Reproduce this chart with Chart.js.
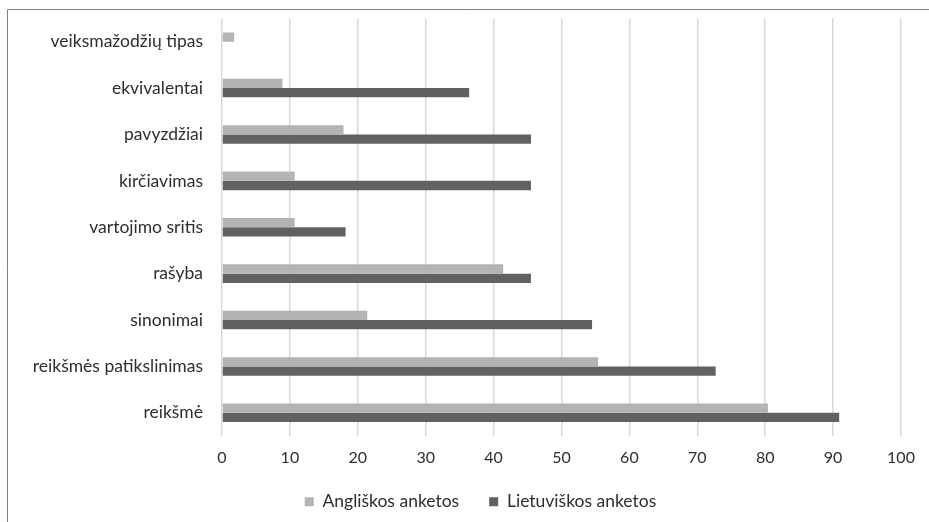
<!DOCTYPE html>
<html>
<head>
<meta charset="utf-8">
<script src="https://cdn.jsdelivr.net/npm/chart.js@4.4.1/dist/chart.umd.min.js"></script>
<style>
html,body{margin:0;padding:0;background:#fff;}
#wrap{position:relative;width:929px;height:522px;}
</style>
</head>
<body>
<div id="wrap"><canvas id="c" width="929" height="522"></canvas></div>
<script>
const categories = ['veiksmažodžių tipas','ekvivalentai','pavyzdžiai','kirčiavimas','vartojimo sritis','rašyba','sinonimai','reikšmės patikslinimas','reikšmė'];
const anglValues = [1.8, 8.9, 17.9, 10.7, 10.7, 41.4, 21.4, 55.4, 80.4];
const lietValues = [null, 36.4, 45.5, 45.5, 18.2, 45.5, 54.5, 72.7, 90.9];
const seriesNames = ['Angliškos anketos', 'Lietuviškos anketos'];
const xMin = 0, xMax = 100, xStep = 10;

const FONT = 'Lato';
const TEXT = '#2e2e2e';

const framePlugin = {
  id: 'frame',
  beforeDraw(chart) {
    const ctx = chart.ctx;
    ctx.save();
    ctx.strokeStyle = '#808080';
    ctx.lineWidth = 1;
    ctx.beginPath();
    ctx.moveTo(7.5, 522);
    ctx.lineTo(7.5, 9.5);
    ctx.lineTo(929, 9.5);
    ctx.stroke();
    ctx.restore();
  }
};

const legendPatch = {
  id: 'legendPatch',
  beforeLayout(chart) {
    const lg = chart.legend;
    if (lg && !lg._patched) {
      const f = lg.fit.bind(lg);
      lg.fit = function () { f(); this.height = 59; };
      lg._patched = true;
    }
  },
  afterLayout(chart) {
    const lg = chart.legend;
    if (lg) { lg.left = 60; lg.right = 901; }
  }
};

new Chart(document.getElementById('c'), {
  type: 'bar',
  data: {
    labels: categories,
    datasets: [
      { label: seriesNames[0], data: anglValues, backgroundColor: '#b3b4b6', borderWidth: 0 },
      { label: seriesNames[1], data: lietValues, backgroundColor: '#616163', borderWidth: 0 }
    ]
  },
  options: {
    indexAxis: 'y',
    responsive: false,
    animation: false,
    devicePixelRatio: 1,
    layout: { padding: { left: 0, right: 28, top: 18.5, bottom: 0 } },
    datasets: { bar: { categoryPercentage: 0.40, barPercentage: 1.0 } },
    scales: {
      x: {
        min: xMin, max: xMax,
        ticks: { stepSize: xStep, color: TEXT, font: { family: FONT, size: 16 }, padding: 12 },
        grid: { color: '#d9d9d9', lineWidth: 1.5, drawTicks: false },
        border: { display: false },
        afterFit(s) { s.height = 27; }
      },
      y: {
        ticks: { color: TEXT, font: { family: FONT, size: 17.5 }, padding: 19 },
        grid: { display: false, drawTicks: false },
        border: { display: false },
        afterFit(s) { s.width = 222; s.paddingTop = 0; s.paddingBottom = 0; }
      }
    },
    plugins: {
      legend: {
        position: 'bottom',
        labels: { color: TEXT, font: { family: FONT, size: 17.5 }, boxWidth: 9, boxHeight: 9, padding: 30 }
      },
      tooltip: { enabled: false }
    }
  },
  plugins: [framePlugin, legendPatch]
});
</script>
</body>
</html>
